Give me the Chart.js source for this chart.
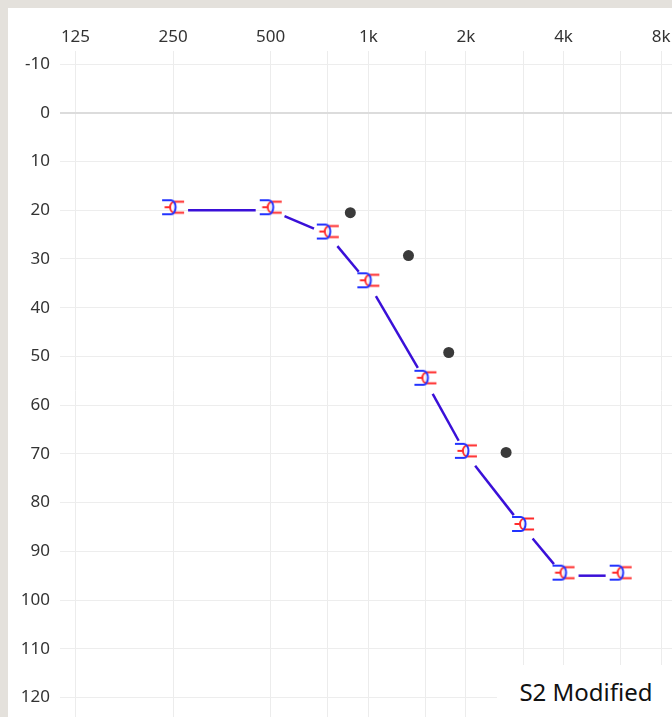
<!DOCTYPE html>
<html>
<head>
<meta charset="utf-8">
<script src="https://cdn.jsdelivr.net/npm/chart.js@4.4.1/dist/chart.umd.min.js"></script>
<style>
    html, body { margin: 0; padding: 0; background: #e4e1dc; overflow: hidden; }
    #panel { position: absolute; left: 8px; top: 8px; width: 664px; height: 709px; background: #ffffff; }
    #tag {
        position: absolute; left: 497px; top: 665px; width: 178px; height: 52px;
        background: #ffffff; color: #111; font: 24px 'Noto Sans', 'Open Sans', sans-serif;
        display: flex; align-items: center; justify-content: center;
    }
</style>
</head>
<body>
<div id="panel"><canvas id="chart" width="664" height="709"></canvas></div>
<div id="tag">S2 Modified</div>
<script>
// 周波数軸の目盛り
const tickFreqs = [125, 250, 500, 750, 1000, 1500, 2000, 3000, 4000, 6000, 8000];
const tickLabels = ['125', '250', '500', '', '1k', '', '2k', '', '4k', '', '8k'];
const levelTicks = [-10, 0, 10, 20, 30, 40, 50, 60, 70, 80, 90, 100, 110, 120];

// 記号付きの系列（線でつなぐ）
const freqs = [250, 500, 750, 1000, 1500, 2000, 3000, 4000, 6000];
const thresholds = [20, 20, 25, 35, 55, 70, 85, 95, 95];

// 黒丸の系列
const dotFreqs = [880, 1330, 1770, 2660];
const dotLevels = [20.5, 29.3, 49.2, 69.7];

// 赤と青を重ねた記号を canvas で作る
function makeSymbol() {
    const c = document.createElement('canvas');
    c.width = 30;
    c.height = 30;
    const g = c.getContext('2d');
    const cx = 15, cy = 12;
    g.lineWidth = 2;
    g.lineCap = 'butt';
    // 赤: 右向きの腕 + 左に膨らむ弧 + 中央の短い横棒
    g.strokeStyle = '#ff2b2b';
    g.beginPath();
    g.moveTo(cx + 11, cy - 5.5);
    g.lineTo(cx + 1.5, cy - 5.5);
    g.ellipse(cx + 1.5, cy, 4.5, 5.5, 0, -Math.PI / 2, Math.PI / 2, true);
    g.lineTo(cx + 11, cy + 5.5);
    g.stroke();
    g.beginPath();
    g.moveTo(cx - 8.5, cy);
    g.lineTo(cx - 3, cy);
    g.stroke();
    // 青: 左向きの腕 + 右に膨らむ弧
    g.strokeStyle = '#2233ff';
    g.beginPath();
    g.moveTo(cx - 11, cy - 7);
    g.lineTo(cx - 2, cy - 7);
    g.ellipse(cx - 2, cy, 4.5, 7, 0, -Math.PI / 2, Math.PI / 2, false);
    g.lineTo(cx - 11, cy + 7);
    g.stroke();
    return c;
}

// 記号の間を隙間つきの線分で結ぶ
const gapLines = {
    id: 'gapLines',
    beforeDatasetsDraw(chart) {
        const pts = chart.getDatasetMeta(0).data;
        const ctx = chart.ctx;
        const gap = 15;
        ctx.save();
        ctx.strokeStyle = '#3a10d8';
        ctx.lineWidth = 2.5;
        for (let i = 0; i < pts.length - 1; i++) {
            const a = pts[i], b = pts[i + 1];
            const dx = b.x - a.x, dy = b.y - a.y;
            const len = Math.hypot(dx, dy);
            if (len <= gap * 2) continue;
            const ux = dx / len, uy = dy / len;
            ctx.beginPath();
            ctx.moveTo(a.x + ux * gap, a.y + uy * gap);
            ctx.lineTo(b.x - ux * gap, b.y - uy * gap);
            ctx.stroke();
        }
        ctx.restore();
    },
};

Chart.defaults.font.family = "'Noto Sans', 'Open Sans', sans-serif";
Chart.defaults.font.size = 17;
Chart.defaults.color = '#333333';

const symbol = makeSymbol();

new Chart(document.getElementById('chart'), {
    type: 'scatter',
    data: {
        datasets: [
            {
                label: 'S2',
                data: freqs.map((f, i) => ({ x: f, y: thresholds[i] })),
                pointStyle: symbol,
                pointRadius: 10,
                showLine: false,
            },
            {
                label: 'dots',
                data: dotFreqs.map((f, i) => ({ x: f, y: dotLevels[i] })),
                pointStyle: 'circle',
                pointRadius: 5.5,
                backgroundColor: '#3a3a3a',
                borderWidth: 0,
                showLine: false,
            },
        ],
    },
    options: {
        responsive: false,
        animation: false,
        layout: { padding: 0, autoPadding: false },
        plugins: {
            legend: { display: false },
            tooltip: { enabled: false },
        },
        scales: {
            x: {
                type: 'logarithmic',
                position: 'top',
                min: 112,
                max: 8640,
                afterBuildTicks: (scale) => {
                    scale.ticks = tickFreqs.map((v) => ({ value: v }));
                },
                afterFit: (scale) => {
                    scale.height = 56;
                    scale.paddingLeft = 0;
                    scale.paddingRight = 0;
                },
                ticks: {
                    autoSkip: false,
                    maxRotation: 0,
                    padding: 4,
                    callback: (value, index) => tickLabels[index],
                },
                grid: { color: '#ececec', lineWidth: 1, drawTicks: true, tickLength: 13 },
                border: { display: false },
            },
            y: {
                type: 'linear',
                reverse: true,
                min: -10,
                max: 124,
                afterBuildTicks: (scale) => {
                    scale.ticks = levelTicks.map((v) => ({ value: v }));
                },
                afterFit: (scale) => {
                    scale.width = 52;
                    scale.paddingTop = 0;
                    scale.paddingBottom = 0;
                },
                ticks: { padding: 10 },
                grid: {
                    drawTicks: false,
                    color: (c) => (c.tick && c.tick.value === 0 ? '#dcdcdc' : '#ededed'),
                    lineWidth: (c) => (c.tick && c.tick.value === 0 ? 2 : 1),
                },
                border: { display: false },
            },
        },
    },
    plugins: [gapLines],
});
</script>
</body>
</html>
